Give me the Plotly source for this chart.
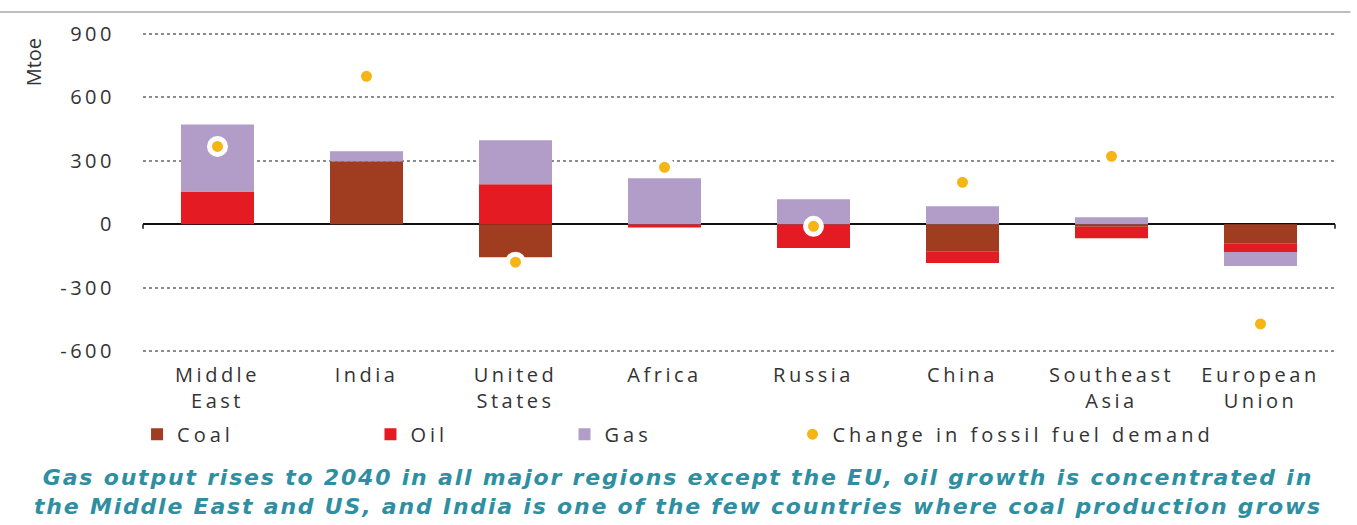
import plotly.graph_objects as go

regions = ["Middle<br>East", "India", "United<br>States", "Africa", "Russia",
           "China", "Southeast<br>Asia", "European<br>Union"]
coal = [0, 298, -156, 0, 0, -128, -12, -90]
oil = [155, 0, 189, -16, -113, -56, -55, -42]
gas = [317, 47, 208, 217, 118, 85, 33, -66]
demand_change = [368, 700, -180, 269, -10, 198, 321, -472]

y_ticks = [900, 600, 300, 0, -300, -600]
caption_lines = [
    "Gas output rises to 2040 in all major regions except the EU, oil growth is concentrated in",
    "the Middle East and US, and India is one of the few countries where coal production grows",
]

FONT = "Open Sans, sans-serif"
TXT = "#333333"


def spaced(s, px=3.5):
    return "<br>".join(f'<span style="letter-spacing:{px}px">{part}</span>' for part in s.split("<br>"))


x = list(range(len(regions)))

fig = go.Figure()
fig.add_trace(go.Bar(x=x, y=coal, name=spaced("Coal", 4), marker=dict(color="#a03c1f", line_width=0),
                     width=0.49, legend="legend"))
fig.add_trace(go.Bar(x=x, y=oil, name=spaced("Oil", 4), marker=dict(color="#e41b23", line_width=0),
                     width=0.49, legend="legend2"))
fig.add_trace(go.Bar(x=x, y=gas, name=spaced("Gas", 4), marker=dict(color="#b19dc7", line_width=0),
                     width=0.49, legend="legend3"))
fig.add_trace(go.Scatter(x=x, y=demand_change, mode="markers",
                         name=spaced("Change in fossil fuel demand", 4),
                         marker=dict(color="#f4b515", size=16, line=dict(color="white", width=5)),
                         legend="legend4"))

leg_common = dict(orientation="h", xref="container", yref="container", y=0.173, yanchor="middle",
                  xanchor="left", bgcolor="rgba(0,0,0,0)", font=dict(family=FONT, size=20, color=TXT),
                  itemwidth=30)

caption_html = "<br>".join(f'<span style="letter-spacing:1.8px">{line}</span>' for line in caption_lines)

fig.update_layout(
    width=1357, height=525,
    margin=dict(l=143, r=22, t=33, b=173, autoexpand=False),
    paper_bgcolor="white", plot_bgcolor="white",
    barmode="relative",
    showlegend=True,
    legend=dict(x=0.101, **leg_common),
    legend2=dict(x=0.273, **leg_common),
    legend3=dict(x=0.416, **leg_common),
    legend4=dict(x=0.584, **leg_common),
    xaxis=dict(range=[-0.5, len(regions) - 0.5], tickvals=x, ticktext=[spaced(r) for r in regions],
               showgrid=False, zeroline=False, showline=False, ticks="", ticklabelstandoff=9,
               automargin=False, tickfont=dict(family=FONT, size=20, color=TXT)),
    yaxis=dict(range=[-605, 905], tickvals=y_ticks, ticktext=[spaced(str(v), 3.5) for v in y_ticks],
               showgrid=True, gridcolor="#8c8c8c", griddash="dot", gridwidth=1.5,
               zeroline=True, zerolinecolor="#111111", zerolinewidth=1.5,
               showline=False, ticks="", ticklabelstandoff=27, automargin=False,
               tickfont=dict(family=FONT, size=20, color=TXT)),
    shapes=[
        dict(type="line", xref="paper", yref="paper", x0=-0.12, x1=1.013, y0=1.066, y1=1.066,
             line=dict(color="#bdbdbd", width=2)),
        dict(type="line", xref="paper", yref="y", x0=0, x1=0, y0=0, y1=-22,
             line=dict(color="#111111", width=1.5)),
        dict(type="line", xref="paper", yref="y", x0=1, x1=1, y0=0, y1=-22,
             line=dict(color="#111111", width=1.5)),
    ],
    annotations=[
        dict(text="Mtoe", xref="paper", yref="paper", x=-0.0923, y=0.908, textangle=-90,
             xanchor="center", yanchor="middle",
             showarrow=False, font=dict(family=FONT, size=20, color=TXT)),
        dict(text=f"<b><i>{caption_html}</i></b>",
             xref="paper", yref="paper", x=0.449, y=-0.44,
             xanchor="center", yanchor="middle", showarrow=False, align="center",
             font=dict(family="DejaVu Sans, sans-serif", size=22, color="#2e8fa2")),
    ],
)

fig.write_html("out.html")
